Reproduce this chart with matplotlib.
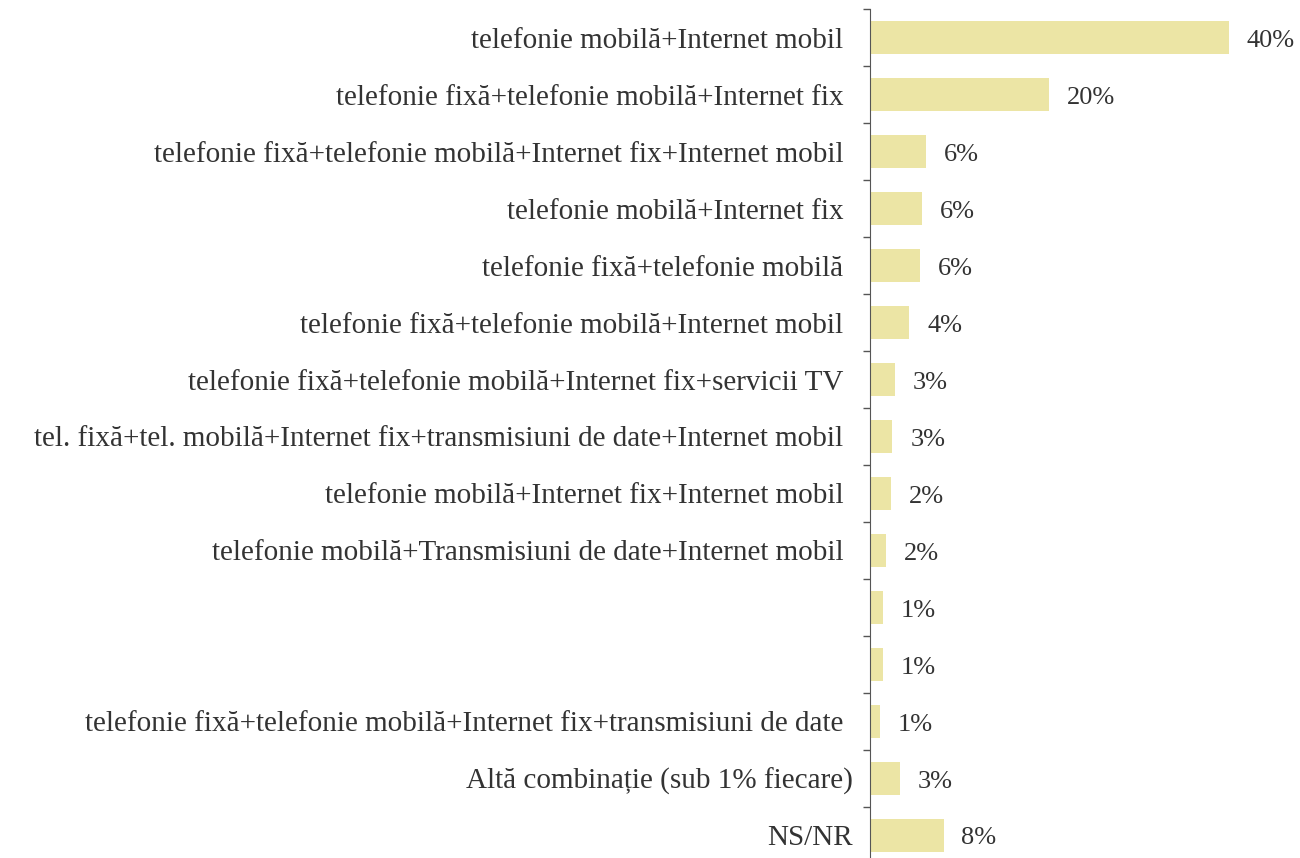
import numpy as np
import matplotlib.pyplot as plt
import matplotlib.transforms as mtransforms

categories = [
    "telefonie mobilă+Internet mobil",
    "telefonie fixă+telefonie mobilă+Internet fix",
    "telefonie fixă+telefonie mobilă+Internet fix+Internet mobil",
    "telefonie mobilă+Internet fix",
    "telefonie fixă+telefonie mobilă",
    "telefonie fixă+telefonie mobilă+Internet mobil",
    "telefonie fixă+telefonie mobilă+Internet fix+servicii TV",
    "tel. fixă+tel. mobilă+Internet fix+transmisiuni de date+Internet mobil",
    "telefonie mobilă+Internet fix+Internet mobil",
    "telefonie mobilă+Transmisiuni de date+Internet mobil",
    "",
    "",
    "telefonie fixă+telefonie mobilă+Internet fix+transmisiuni de date",
    "Altă combinație (sub 1% fiecare)",
    "NS/NR",
]
# bar lengths, labels as printed
values = [40.0, 20.0, 6.2, 5.8, 5.6, 4.4, 2.8, 2.5, 2.3, 1.8, 1.4, 1.4, 1.1, 3.3, 8.2]
value_labels = ["40%", "20%", "6%", "6%", "6%", "4%", "3%", "3%", "2%", "2%",
                "1%", "1%", "1%", "3%", "8%"]

plt.rcParams['font.family'] = ['Liberation Serif', 'DejaVu Serif']

fig = plt.figure(figsize=(13, 8.58), dpi=100)
ax = fig.add_axes([870 / 1300, -0.0064, 403.6 / 1300, 0.9954])

y = np.arange(len(categories))
ax.barh(y, values, height=0.58, color='#ECE5A5', edgecolor='none')

for yi, v, lab in zip(y, values, value_labels):
    ax.text(v + 2.0, yi + 0.06, lab, va='center', ha='left', fontsize=19, color='#333333')

ax.set_xlim(0, 45)
ax.set_ylim(len(categories) - 0.5, -0.5)

ax.set_yticks(y)
ax.set_yticklabels(categories, fontsize=21, color='#333333')
ax.tick_params(axis='y', which='major', length=0, pad=19)
ax.set_yticks(np.arange(len(categories) + 1) - 0.5, minor=True)
ax.tick_params(axis='y', which='minor', length=5, width=1, color='#555555', direction='out')

# last two labels sit a little closer to the axis
shift = mtransforms.ScaledTranslation(9 / 100, 0, fig.dpi_scale_trans)
for t in ax.get_yticklabels()[-2:]:
    t.set_transform(t.get_transform() + shift)

ax.set_xticks([])
for s in ['top', 'right', 'bottom']:
    ax.spines[s].set_visible(False)
ax.spines['left'].set_color('#555555')

fig.savefig('out.png', dpi=100)
